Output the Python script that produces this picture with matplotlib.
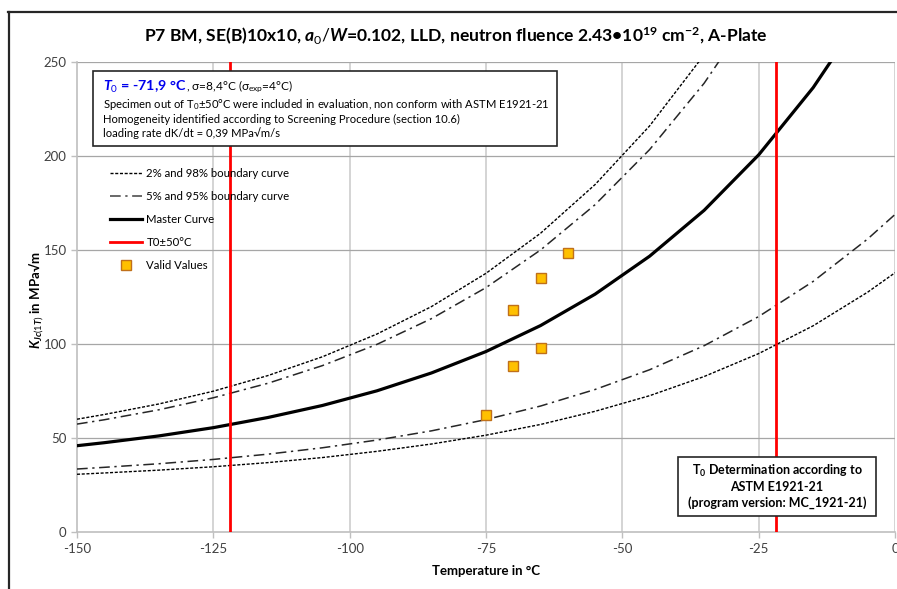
import numpy as np
import matplotlib
matplotlib.use("Agg")
import matplotlib.pyplot as plt
from matplotlib.lines import Line2D
from matplotlib.patches import Rectangle
from matplotlib.offsetbox import TextArea, HPacker, AnnotationBbox

plt.rcParams['font.family'] = ['Lato', 'DejaVu Sans']
plt.rcParams['mathtext.fontset'] = 'custom'
plt.rcParams['mathtext.rm'] = 'Lato'
plt.rcParams['mathtext.it'] = 'Lato:bold:italic'
plt.rcParams['mathtext.bf'] = 'Lato:bold'
plt.rcParams['axes.unicode_minus'] = False

# ---- data ----
temps = [-150, -145, -135, -125, -115, -105, -95, -85, -75, -65, -55, -45, -35, -25, -15, -5, 0]
master = [45.9, 47.5, 51.1, 55.5, 60.9, 67.3, 75.1, 84.6, 96.0, 109.8, 126.5, 146.7, 171.1, 200.6, 236.4, 279.5, 304.4]
p02 = [30.7, 31.4, 32.9, 34.7, 36.9, 39.6, 42.9, 46.8, 51.5, 57.2, 64.2, 72.5, 82.7, 94.9, 109.7, 127.6, 137.9]
p05 = [33.5, 34.4, 36.3, 38.6, 41.4, 44.8, 48.9, 53.8, 59.8, 67.0, 75.8, 86.3, 99.1, 114.6, 133.3, 155.9, 168.9]
p95 = [57.4, 59.7, 65.0, 71.4, 79.1, 88.5, 99.8, 113.5, 130.0, 150.0, 174.1, 203.4, 238.7, 281.4, 333.1, 395.6, 431.6]
p98 = [60.0, 62.5, 68.1, 74.9, 83.2, 93.2, 105.3, 119.9, 137.6, 158.9, 184.8, 216.0, 253.8, 299.5, 354.7, 421.5, 460.0]
t0_lines = [-121.9, -21.9]
valid_T = [-75, -70, -70, -65, -65, -60]
valid_K = [62.0, 88.5, 118.0, 98.0, 135.0, 148.5]
xticks = [-150, -125, -100, -75, -50, -25, 0]
yticks = [0, 50, 100, 150, 200, 250]

fig = plt.figure(figsize=(8.97, 5.89), dpi=100)
ax = fig.add_axes([77/897, 1-532/589, (895-77)/897, (532-62)/589])
ax.set_xlim(-150, 0)
ax.set_ylim(0, 250)

# grid
for xv in xticks[1:]:
    ax.axvline(xv, color='#d4d4d4', lw=1.4, zorder=0)
for yv in yticks[1:]:
    ax.axhline(yv, color='#a6a6a6', lw=0.9, zorder=0)

dot_ls = (0, (2.2, 1.2))
dd_ls = (0, (7, 3, 1.5, 3))
ax.plot(temps, p02, color='black', lw=1.0, ls=dot_ls, zorder=3)
ax.plot(temps, p98, color='black', lw=1.0, ls=dot_ls, zorder=3)
ax.plot(temps, p05, color='#262626', lw=1.1, ls=dd_ls, zorder=3)
ax.plot(temps, p95, color='#262626', lw=1.1, ls=dd_ls, zorder=3)
ax.plot(temps, master, color='black', lw=2.3, zorder=4)
for tv in t0_lines:
    ax.axvline(tv, color='#ff0000', lw=2.0, zorder=5)
ax.plot(valid_T, valid_K, ls='none', marker='s', ms=6.5, mfc='#FFC000', mec='#C0701A', mew=1.0, zorder=6)

for s in ['top', 'right']:
    ax.spines[s].set_visible(False)
for s in ['left', 'bottom']:
    ax.spines[s].set_color('#bfbfbf')
    ax.spines[s].set_linewidth(1.2)
ax.set_xticks(xticks)
ax.set_yticks(yticks)
ax.tick_params(axis='both', colors='#bfbfbf', labelcolor='#404040', labelsize=9.5, length=4, width=1)
ax.tick_params(axis='x', pad=4)

ax.set_xlabel('Temperature in °C', fontsize=9.5, fontweight='bold', labelpad=7)
fig.text(37/897, 1-300/589, r'$K_{Jc(1T)}$ in MPa√m', rotation=90, fontsize=9.5, fontweight='bold',
         ha='center', va='center')

fig.text(456/897, 1-36/589,
         r'P7 BM, SE(B)10x10, $a_{\mathit{0}}/W$=0.102, LLD, neutron fluence 2.43•10$^{\mathbf{19}}$ cm$^{\mathbf{-2}}$, A-Plate',
         fontsize=12.6, fontweight='bold', ha='center', va='center')

# frame lines of the figure
fig.add_artist(Line2D([8/897, 1], [1-12/589, 1-12/589], color='#262626', lw=1.6))
fig.add_artist(Line2D([9/897, 9/897], [0, 1-12/589], color='#262626', lw=1.6))

# legend
handles = [
    Line2D([], [], color='black', lw=1.0, ls=dot_ls),
    Line2D([], [], color='#404040', lw=1.1, ls=dd_ls),
    Line2D([], [], color='black', lw=2.3),
    Line2D([], [], color='#ff0000', lw=2.0),
    Line2D([], [], ls='none', marker='s', ms=6.5, mfc='#FFC000', mec='#C0701A', mew=1.0),
]
labels = ['2% and 98% boundary curve', '5% and 95% boundary curve', 'Master Curve', 'T0±50°C', 'Valid Values']
leg = ax.legend(handles, labels, loc='upper left', bbox_to_anchor=((110-77)/818, (532-168)/470),
                frameon=False, fontsize=8.2, handlelength=2.85, handletextpad=0.34, labelspacing=1.06,
                borderaxespad=0, borderpad=0)
leg.set_zorder(7)

def ypos(py):
    return (532-py)/470

# info box top-left
ax.add_patch(Rectangle(((93-77)/818, ypos(146)), (557-93)/818, (146-71)/470, transform=ax.transAxes,
                       facecolor='white', edgecolor='#262626', lw=1.2, zorder=8))
x0 = (103-77)/818
blue = '#0000ee'
ta1 = TextArea(r'$T_{\mathit{0}}$ = -71,9 °C', textprops=dict(color=blue, fontsize=10.3, fontweight='bold'))
ta2 = TextArea(r', σ=8,4°C (σ$_\mathrm{exp}$=4°C)', textprops=dict(fontsize=8.6))
pack = HPacker(children=[ta1, ta2], align='baseline', pad=0, sep=0)
ab = AnnotationBbox(pack, (x0, ypos(87)), xycoords='axes fraction', box_alignment=(0, 0.5),
                    frameon=False, pad=0, zorder=9)
ax.add_artist(ab)
ax.text(x0, ypos(104), r'Specimen out of T$_\mathrm{0}$±50°C were included in evaluation, non conform with ASTM E1921-21',
        transform=ax.transAxes, fontsize=8.1, va='center', ha='left', zorder=9)
ax.text(x0, ypos(119.5), 'Homogeneity identified according to Screening Procedure (section 10.6)',
        transform=ax.transAxes, fontsize=8.1, va='center', ha='left', zorder=9)
ax.text(x0, ypos(133.5), 'loading rate dK/dt = 0,39 MPa√m/s',
        transform=ax.transAxes, fontsize=8.1, va='center', ha='left', zorder=9)

# bottom-right box
ax.add_patch(Rectangle(((678-77)/818, ypos(516)), (876-678)/818, (516-457)/470, transform=ax.transAxes,
                       facecolor='white', edgecolor='#262626', lw=1.2, zorder=8))
xc = (777-77)/818
ax.text(xc, ypos(471), r'T$_\mathbf{0}$ Determination according to', transform=ax.transAxes, fontsize=9,
        fontweight='bold', ha='center', va='center', zorder=9)
ax.text(xc, ypos(487), 'ASTM E1921-21', transform=ax.transAxes, fontsize=9,
        fontweight='bold', ha='center', va='center', zorder=9)
ax.text(xc, ypos(503), '(program version: MC_1921-21)', transform=ax.transAxes, fontsize=9,
        fontweight='bold', ha='center', va='center', zorder=9)

fig.savefig('out.png', dpi=100)
